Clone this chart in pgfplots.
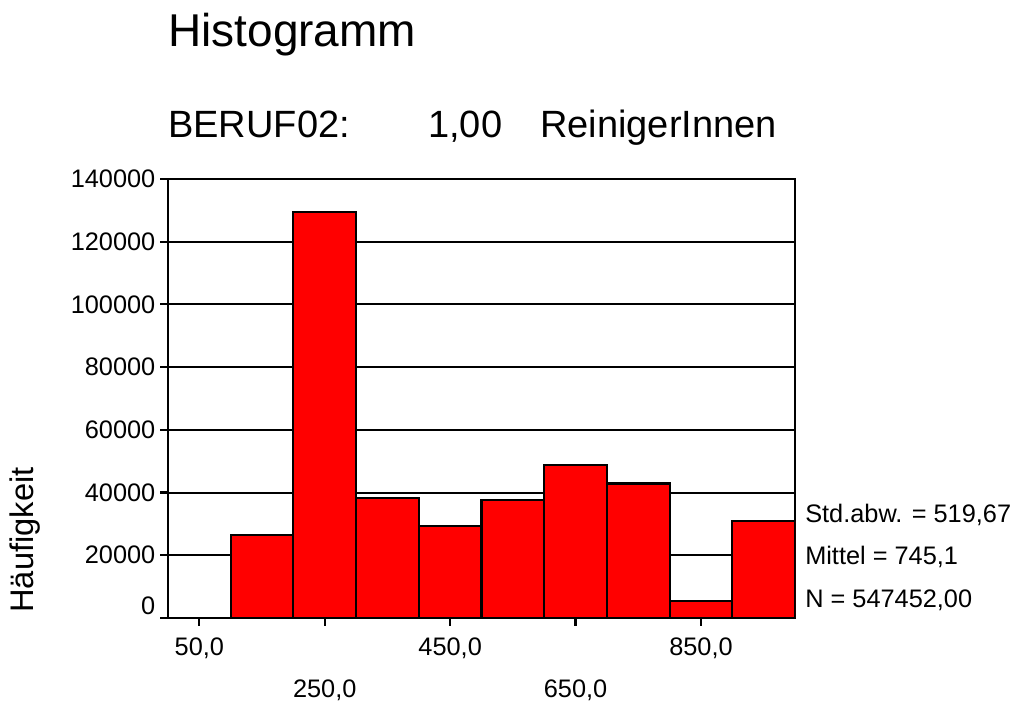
\documentclass[border=0pt]{standalone}
\usepackage{fontspec}
\setmainfont{Liberation Sans}
\usepackage{pgfplots}
\pgfplotsset{compat=1.18}
\begin{document}
\begin{tikzpicture}
\useasboundingbox (0,0) rectangle (761.25pt,526.5pt);
\begin{axis}[
  at={(126pt,63pt)}, anchor=south west,
  scale only axis, width=470.25pt, height=329.25pt,
  xmin=0, xmax=1000, ymin=0, ymax=140000,
  axis line style={line width=1.6pt},
  every tick/.style={black, line width=1.6pt},
  tick align=outside,
  xtick pos=bottom, ytick pos=left,
  major tick length=6pt,
  scaled y ticks=false,
  ymajorgrids, major grid style={black, line width=1.5pt},
  ytick={0,20000,40000,60000,80000,100000,120000,140000},
  yticklabels={\raisebox{9.4pt}[\height][\depth]{0},20000,40000,60000,80000,100000,120000,140000},
  xtick={50,450,850},
  xticklabels={{50,0},{450,0},{850,0}},
  extra x ticks={250,650},
  extra x tick labels={{250,0},{650,0}},
  extra x tick style={xticklabel style={yshift=-31.5pt}},
  xticklabel style={font=\fontsize{19}{22}\selectfont, anchor=base, yshift=-22pt},
  yticklabel style={font=\fontsize{19}{22}\selectfont},
  /pgf/number format/assume math mode=true,
  /pgf/number format/1000 sep={},
]
\addplot[ybar interval, fill=red, draw=black, line width=1.6pt] coordinates {
  (100,26500) (200,129500) (300,38400) (400,29400) (500,37700)
  (600,48800) (700,42900) (800,5500) (900,31000) (1000,31000)
};
\end{axis}
\node[anchor=base west, inner sep=0pt, font=\fontsize{34.5}{40}\selectfont] at (126pt,491.25pt) {Histogramm};
\node[anchor=base west, inner sep=0pt, font=\fontsize{28.5}{33}\selectfont] at (126pt,423.4pt) {BERUF02:};
\node[anchor=base west, inner sep=0pt, font=\fontsize{28.5}{33}\selectfont] at (321pt,423.4pt) {1,00};
\node[anchor=base west, inner sep=0pt, font=\fontsize{28.5}{33}\selectfont] at (405pt,423.4pt) {ReinigerInnen};
\node[rotate=90, inner sep=0pt, font=\fontsize{24.5}{28}\selectfont] at (18.75pt,121.5pt) {Häufigkeit};
\node[anchor=base west, inner sep=0pt, font=\fontsize{19}{22}\selectfont] at (603.75pt,134.25pt) {Std.abw. = 519,67};
\node[anchor=base west, inner sep=0pt, font=\fontsize{19}{22}\selectfont] at (603.75pt,102.75pt) {Mittel = 745,1};
\node[anchor=base west, inner sep=0pt, font=\fontsize{19}{22}\selectfont] at (603.75pt,70.5pt) {N = 547452,00};
\end{tikzpicture}
\end{document}
